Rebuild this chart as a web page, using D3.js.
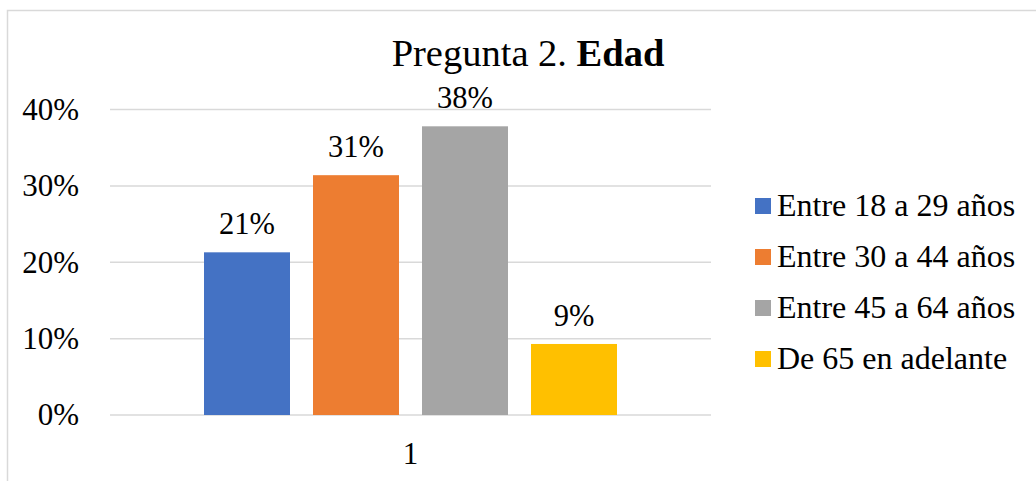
<!DOCTYPE html>
<html>
<head>
<meta charset="utf-8">
<script src="https://cdn.jsdelivr.net/npm/d3@7"></script>
<style>
  body { margin: 0; background: #fff; }
  svg text { font-family: "Liberation Serif", "Times New Roman", serif; fill: #000; }
</style>
</head>
<body>
<svg id="chart" width="1036" height="481"></svg>
<script>
// data
var categories = ["1"],
    seriesNames = ["Entre 18 a 29 años", "Entre 30 a 44 años", "Entre 45 a 64 años", "De 65 en adelante"],
    seriesValues = [21.3, 31.4, 37.8, 9.3],
    seriesLabels = ["21%", "31%", "38%", "9%"],
    seriesColors = ["#4472C4", "#ED7D31", "#A5A5A5", "#FFC000"],
    yTicks = [0, 10, 20, 30, 40];

var plot = {left: 110, right: 711, top: 109.5, bottom: 415};

var svg = d3.select("#chart");

// outer frame (only left and top edges are visible in the picture)
svg.append("rect")
  .attr("x", 7.5).attr("y", 10.5)
  .attr("width", 1040).attr("height", 480)
  .attr("fill", "none")
  .attr("stroke", "#d9d9d9")
  .attr("stroke-width", 1.5);

var y = d3.scaleLinear().domain([0, 40]).range([plot.bottom, plot.top]);

var x0 = d3.scaleBand().domain(categories)
  .range([plot.left, plot.right])
  .paddingInner(0).paddingOuter(0.2276);

var x1 = d3.scaleBand().domain(seriesNames)
  .range([0, x0.bandwidth()])
  .paddingInner(0.211).paddingOuter(0);

//gridlines
svg.append("g").selectAll("line")
  .data(yTicks)
  .enter().append("line")
    .attr("x1", plot.left).attr("x2", plot.right)
    .attr("y1", function(d) { return y(d); })
    .attr("y2", function(d) { return y(d); })
    .attr("stroke", "#d9d9d9")
    .attr("stroke-width", 1.5);

//y axis labels
var yAxis = svg.append("g")
  .attr("transform", "translate(" + (plot.left - 31) + ",0)")
  .call(d3.axisLeft(y).tickValues(yTicks).tickSize(0).tickPadding(0)
    .tickFormat(function(d) { return d + "%"; }));
yAxis.select(".domain").remove();
yAxis.selectAll("text")
  .style("font-family", "Liberation Serif")
  .style("font-size", "31px")
  .attr("fill", "#000");

//x axis label
var xAxis = svg.append("g")
  .attr("transform", "translate(0," + plot.bottom + ")")
  .call(d3.axisBottom(x0).tickSize(0).tickPadding(27));
xAxis.select(".domain").remove();
xAxis.selectAll("text")
  .style("font-family", "Liberation Serif")
  .style("font-size", "31px")
  .attr("fill", "#000");

var rows = seriesNames.map(function(name, i) {
  return {name: name, value: seriesValues[i], label: seriesLabels[i], color: seriesColors[i]};
});

var group = svg.append("g")
  .attr("transform", "translate(" + x0(categories[0]) + ",0)");

group.selectAll(".bar")
  .data(rows)
  .enter().append("rect")
    .attr("class", "bar")
    .attr("x", function(d) { return x1(d.name); })
    .attr("width", x1.bandwidth())
    .attr("y", function(d) { return y(d.value); })
    .attr("height", function(d) { return y(0) - y(d.value); })
    .style("fill", function(d) { return d.color; });

group.selectAll(".val")
  .data(rows)
  .enter().append("text")
    .attr("class", "val")
    .attr("x", function(d) { return x1(d.name) + x1.bandwidth() / 2; })
    .attr("y", function(d) { return y(d.value) - 18; })
    .attr("text-anchor", "middle")
    .style("font-size", "30.5px")
    .text(function(d) { return d.label; });

//title
var title = svg.append("text")
  .attr("x", 528)
  .attr("y", 66)
  .attr("text-anchor", "middle")
  .style("font-size", "38.5px");
title.append("tspan").text("Pregunta 2. ");
title.append("tspan").style("font-weight", "bold").text("Edad");

//legend
var legend = svg.append("g").selectAll(".leg")
  .data(rows)
  .enter().append("g")
    .attr("class", "leg")
    .attr("transform", function(d, i) { return "translate(755," + (216 + i * 51) + ")"; });

legend.append("rect")
  .attr("x", 0).attr("y", -18)
  .attr("width", 16).attr("height", 16)
  .style("fill", function(d) { return d.color; });

legend.append("text")
  .attr("x", 22).attr("y", 0)
  .style("font-size", "32px")
  .text(function(d) { return d.name; });
</script>
</body>
</html>
